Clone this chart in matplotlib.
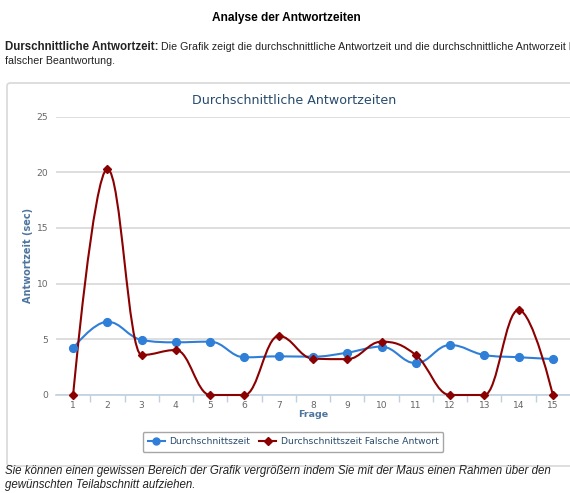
import matplotlib
matplotlib.use("Agg")
import matplotlib.pyplot as plt
from matplotlib.path import Path
from matplotlib.patches import PathPatch, FancyBboxPatch
from matplotlib.lines import Line2D

questions = list(range(1, 16))
avg_time = [4.2, 6.58, 4.94, 4.73, 4.79, 3.38, 3.47, 3.44, 3.8, 4.34, 2.85, 4.49, 3.59, 3.39, 3.23]
avg_wrong = [0, 20.28, 3.59, 4.04, 0, 0, 5.3, 3.26, 3.22, 4.79, 3.59, 0, 0, 7.64, 0]
yticks = [0, 5, 10, 15, 20, 25]

BLUE = "#2f7ed8"
RED = "#8b0000"
W, H = 570, 493


def spline_path(xs, ys, smoothing=1.5):
    denom = smoothing + 1
    verts = [(xs[0], ys[0])]
    codes = [Path.MOVETO]
    last_rc = (xs[0], ys[0])
    n = len(xs)
    for i in range(1, n):
        px, py = xs[i], ys[i]
        lx, ly = xs[i - 1], ys[i - 1]
        if i < n - 1:
            nx, ny = xs[i + 1], ys[i + 1]
            lcx = (smoothing * px + lx) / denom
            lcy = (smoothing * py + ly) / denom
            rcx = (smoothing * px + nx) / denom
            rcy = (smoothing * py + ny) / denom
            if rcx != lcx:
                corr = (rcy - lcy) * (rcx - px) / (rcx - lcx) + py - rcy
                lcy += corr
                rcy += corr
                if lcy > ly and lcy > py:
                    lcy = max(ly, py)
                    rcy = 2 * py - lcy
                elif lcy < ly and lcy < py:
                    lcy = min(ly, py)
                    rcy = 2 * py - lcy
                if rcy > ny and rcy > py:
                    rcy = max(ny, py)
                    lcy = 2 * py - rcy
                elif rcy < ny and rcy < py:
                    rcy = min(ny, py)
                    lcy = 2 * py - rcy
        else:
            lcx, lcy = px, py
            rcx, rcy = px, py
        verts += [last_rc, (lcx, lcy), (px, py)]
        codes += [Path.CURVE4] * 3
        last_rc = (rcx, rcy)
    return Path(verts, codes)


fig = plt.figure(figsize=(W / 100, H / 100), dpi=100)


def fx(px):
    return px / W


def fy(py):
    return 1 - py / H


# page header
fig.text(fx(286), fy(18), "Analyse der Antwortzeiten", ha="center", va="center",
         fontsize=8.6, fontweight="bold", family="Liberation Sans", color="#000000")
t1 = fig.text(fx(5), fy(47), "Durschnittliche Antwortzeit:", ha="left", va="center",
              fontsize=8.3, fontweight="bold", family="Liberation Sans", color="#222222")
fig.canvas.draw()
bb = t1.get_window_extent(fig.canvas.get_renderer())
fig.text(bb.x1 / W, fy(47), " Die Grafik zeigt die durchschnittliche Antwortzeit und die durchschnittliche Antworzeit bei",
         ha="left", va="center", fontsize=7.7, family="Liberation Sans", color="#222222")
fig.text(fx(5), fy(61), "falscher Beantwortung.", ha="left", va="center",
         fontsize=7.7, family="Liberation Sans", color="#222222")

# chart frame
frame = FancyBboxPatch((fx(7), fy(466)), fx(580) - fx(7), fy(83) - fy(466),
                       boxstyle="round,pad=0,rounding_size=0.006", transform=fig.transFigure,
                       facecolor="white", edgecolor="#d8d8d8", linewidth=1.2, zorder=-5)
fig.patches.append(frame)

fig.text(fx(294), fy(100), "Durchschnittliche Antwortzeiten", ha="center", va="center",
         fontsize=9.1, family="DejaVu Sans", color="#274b6d")

ax = fig.add_axes([fx(56), fy(395), fx(570) - fx(56), fy(116.5) - fy(395)])
ax.set_zorder(2)
ax.set_facecolor("none")
ax.set_xlim(0.5, 15.5)
ax.set_ylim(0, 25)
ax.set_yticks(yticks)
ax.set_yticklabels([str(v) for v in yticks])
ax.set_xticks(questions)
ax.set_xticklabels([str(q) for q in questions])
for s in ["top", "right", "left"]:
    ax.spines[s].set_visible(False)
ax.spines["bottom"].set_color("#c0d0e0")
ax.spines["bottom"].set_linewidth(1.2)
ax.grid(axis="y", color="#d8d8d8", linewidth=1.2)
ax.set_axisbelow(True)
ax.tick_params(axis="y", length=0, pad=5.5, labelsize=6.6, labelcolor="#666666")
ax.tick_params(axis="x", length=0, pad=4, labelsize=6.6, labelcolor="#666666")
ax.set_xticks([q + 0.5 for q in questions[:-1]], minor=True)
ax.tick_params(axis="x", which="minor", length=5, color="#c0d0e0", width=1)
for lab in ax.get_xticklabels() + ax.get_yticklabels():
    lab.set_family("DejaVu Sans")

ax.set_ylabel("Antwortzeit (sec)", fontsize=7, fontweight="bold", color="#4d759e")
ax.yaxis.set_label_coords((33 - 56) / (570 - 56), 0.5)
ax.set_xlabel("Frage", fontsize=6.8, fontweight="bold", color="#4d759e")
ax.xaxis.set_label_coords((313 - 56) / (570 - 56), -(410 - 395) / (395 - 116.5))

for ys, col, mk, ms in [(avg_time, BLUE, "o", 5.6), (avg_wrong, RED, "D", 4.0)]:
    ax.add_patch(PathPatch(spline_path(questions, ys), facecolor="none", edgecolor=col,
                           linewidth=1.5, zorder=3, clip_on=False))
    ax.plot(questions, ys, linestyle="none", marker=mk, markersize=ms, color=col,
            zorder=4, clip_on=False)

handles = [Line2D([], [], color=BLUE, marker="o", markersize=5, linewidth=1.5),
           Line2D([], [], color=RED, marker="D", markersize=3.6, linewidth=1.5)]
leg = fig.legend(handles, ["Durchschnittszeit", "Durchschnittszeit Falsche Antwort"],
                 loc="center", bbox_to_anchor=(fx(293), fy(442)), ncol=2, frameon=True,
                 fancybox=True, fontsize=6.7, handlelength=1.9, handletextpad=0.45,
                 columnspacing=0.9, borderpad=0.55, edgecolor="#909090")
leg.get_frame().set_linewidth(1.0)
for t in leg.get_texts():
    t.set_color("#274b6d")

fig.text(fx(5), fy(471), "Sie können einen gewissen Bereich der Grafik vergrößern indem Sie mit der Maus einen Rahmen über den",
         ha="left", va="center", fontsize=8.3, style="italic", family="Liberation Sans", color="#222222")
fig.text(fx(5), fy(485), "gewünschten Teilabschnitt aufziehen.",
         ha="left", va="center", fontsize=8.3, style="italic", family="Liberation Sans", color="#222222")

fig.savefig("out.png", dpi=100)
